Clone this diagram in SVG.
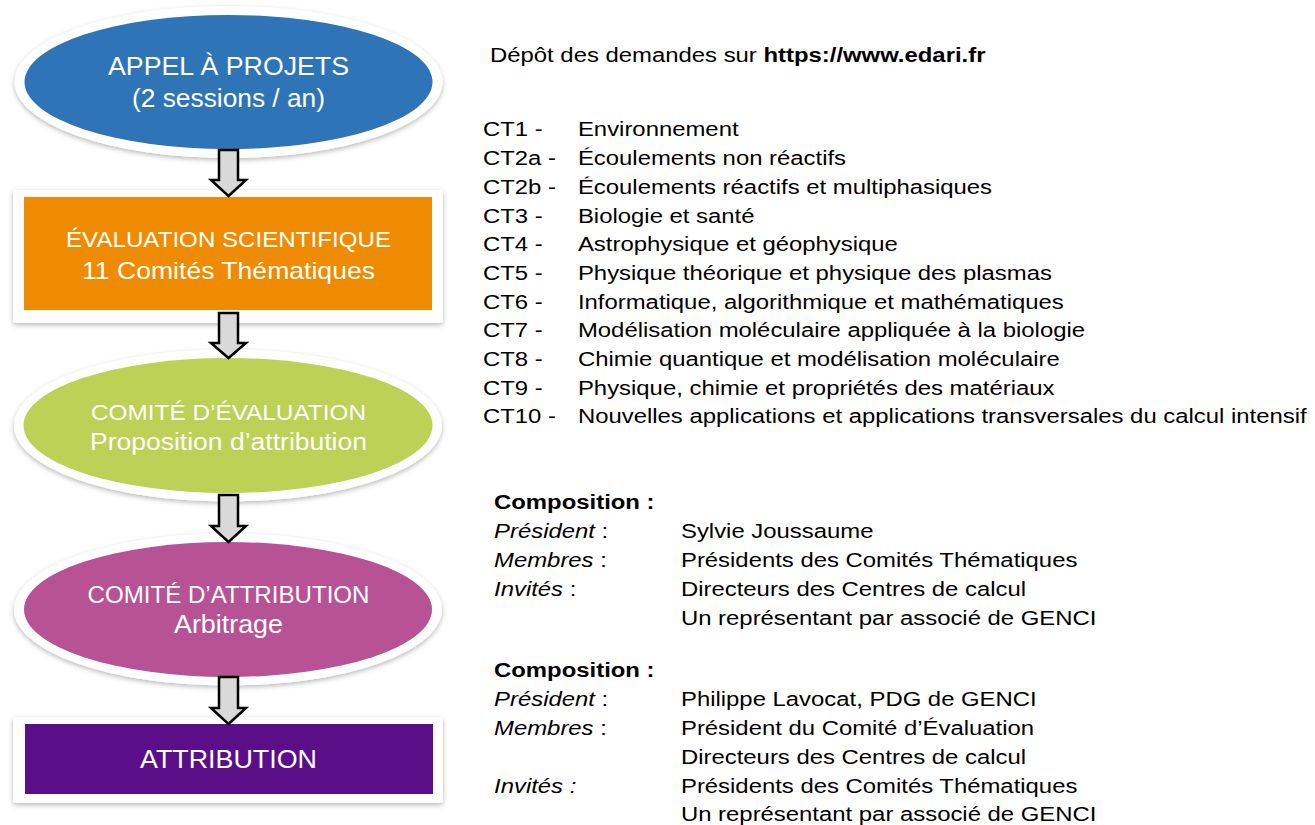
<svg xmlns="http://www.w3.org/2000/svg" width="1315" height="825" viewBox="0 0 1315 825">
<defs>
<filter id="sh" x="-10%" y="-15%" width="120%" height="135%">
<feDropShadow dx="0" dy="2" stdDeviation="2.5" flood-color="#000" flood-opacity="0.28"/>
</filter>
</defs>
<style>
.frame{fill:#fff;filter:url(#sh)}
.lt{font-family:"Liberation Sans",Arial,sans-serif;fill:#fff;text-anchor:middle}
.rt{font-family:"Liberation Sans",Arial,sans-serif;font-size:19.5px;fill:#000}
.b{font-weight:bold}
.i{font-style:italic}
.arrow{fill:#d9d9d9;stroke:#000;stroke-width:2.5;stroke-linejoin:miter}
</style>
<rect width="1315" height="825" fill="#fff"/>

<g id="n1">
<ellipse class="frame" cx="228.5" cy="82" rx="214" ry="76"/>
<ellipse cx="228.5" cy="82" rx="204" ry="67" fill="#2E74B6"/>
<text class="lt" x="228.5" y="75" font-size="25" textLength="241" lengthAdjust="spacingAndGlyphs">APPEL À PROJETS</text>
<text class="lt" x="228.5" y="107" font-size="25" textLength="193" lengthAdjust="spacingAndGlyphs">(2 sessions / an)</text>
</g>

<g id="n2">
<rect class="frame" x="13" y="190" width="430" height="133" rx="3"/>
<rect x="24" y="197" width="408" height="113" fill="#EF8B00"/>
<text class="lt" x="228.5" y="247" font-size="22.5" textLength="325" lengthAdjust="spacingAndGlyphs">ÉVALUATION SCIENTIFIQUE</text>
<text class="lt" x="228.5" y="279" font-size="24.5" textLength="293" lengthAdjust="spacingAndGlyphs">11 Comités Thématiques</text>
</g>

<g id="n3">
<ellipse class="frame" cx="228" cy="425.5" rx="214" ry="76"/>
<ellipse cx="228" cy="425.5" rx="204.5" ry="67.5" fill="#BDD156"/>
<text class="lt" x="228.5" y="420" font-size="21.5" textLength="275" lengthAdjust="spacingAndGlyphs">COMITÉ D’ÉVALUATION</text>
<text class="lt" x="228.5" y="450" font-size="23" textLength="277" lengthAdjust="spacingAndGlyphs">Proposition d’attribution</text>
</g>

<g id="n4">
<ellipse class="frame" cx="228" cy="609.5" rx="214" ry="76"/>
<ellipse cx="228" cy="609.5" rx="204" ry="67.5" fill="#B75295"/>
<text class="lt" x="228.5" y="603" font-size="23" textLength="282" lengthAdjust="spacingAndGlyphs">COMITÉ D’ATTRIBUTION</text>
<text class="lt" x="228.5" y="633" font-size="25" textLength="109" lengthAdjust="spacingAndGlyphs">Arbitrage</text>
</g>

<g id="n5">
<rect class="frame" x="13" y="717" width="430" height="86" rx="3"/>
<rect x="25" y="724" width="408" height="70" fill="#5A0F88"/>
<text class="lt" x="228.5" y="768" font-size="25" textLength="177" lengthAdjust="spacingAndGlyphs">ATTRIBUTION</text>
</g>

<g id="connectors">
<path class="arrow" d="M219,150 H238 V180 H246 L228.5,196 L211,180 H219 Z"/>
<path class="arrow" d="M219,313 H238 V343 H246 L228.5,358 L211,343 H219 Z"/>
<path class="arrow" d="M219,495 H238 V526 H246 L228.5,542 L211,526 H219 Z"/>
<path class="arrow" d="M219,677 H238 V708 H246 L228.5,724 L211,708 H219 Z"/>
</g>

<g id="info" transform="scale(1.225 1)">
<text class="rt" x="400" y="62">Dépôt des demandes sur <tspan class="b">https://www.edari.fr</tspan></text>

<g id="ct-list">
<text class="rt" x="394.3" y="136.5">CT1 -</text><text class="rt" x="471.8" y="136.5">Environnement</text>
<text class="rt" x="394.3" y="165.2">CT2a -</text><text class="rt" x="471.8" y="165.2">Écoulements non réactifs</text>
<text class="rt" x="394.3" y="193.9">CT2b -</text><text class="rt" x="471.8" y="193.9">Écoulements réactifs et multiphasiques</text>
<text class="rt" x="394.3" y="222.6">CT3 -</text><text class="rt" x="471.8" y="222.6">Biologie et santé</text>
<text class="rt" x="394.3" y="251.3">CT4 -</text><text class="rt" x="471.8" y="251.3">Astrophysique et géophysique</text>
<text class="rt" x="394.3" y="280">CT5 -</text><text class="rt" x="471.8" y="280">Physique théorique et physique des plasmas</text>
<text class="rt" x="394.3" y="308.7">CT6 -</text><text class="rt" x="471.8" y="308.7">Informatique, algorithmique et mathématiques</text>
<text class="rt" x="394.3" y="337.4">CT7 -</text><text class="rt" x="471.8" y="337.4">Modélisation moléculaire appliquée à la biologie</text>
<text class="rt" x="394.3" y="366.1">CT8 -</text><text class="rt" x="471.8" y="366.1">Chimie quantique et modélisation moléculaire</text>
<text class="rt" x="394.3" y="394.8">CT9 -</text><text class="rt" x="471.8" y="394.8">Physique, chimie et propriétés des matériaux</text>
<text class="rt" x="394.3" y="423.5">CT10 -</text><text class="rt" x="471.8" y="423.5">Nouvelles applications et applications transversales du calcul intensif</text>
</g>

<g id="comp-evaluation">
<text class="rt b" x="403.3" y="509">Composition :</text>
<text class="rt" x="403.3" y="538"><tspan class="i">Président</tspan> :</text>
<text class="rt" x="555.9" y="538">Sylvie Joussaume</text>
<text class="rt" x="403.3" y="567"><tspan class="i">Membres</tspan> :</text>
<text class="rt" x="555.9" y="567">Présidents des Comités Thématiques</text>
<text class="rt" x="403.3" y="596"><tspan class="i">Invités</tspan> :</text>
<text class="rt" x="555.9" y="596">Directeurs des Centres de calcul</text>
<text class="rt" x="555.9" y="625">Un représentant par associé de GENCI</text>
</g>

<g id="comp-attribution">
<text class="rt b" x="403.3" y="677">Composition :</text>
<text class="rt" x="403.3" y="706"><tspan class="i">Président</tspan> :</text>
<text class="rt" x="555.9" y="706">Philippe Lavocat, PDG de GENCI</text>
<text class="rt" x="403.3" y="735"><tspan class="i">Membres</tspan> :</text>
<text class="rt" x="555.9" y="735">Président du Comité d’Évaluation</text>
<text class="rt" x="555.9" y="764">Directeurs des Centres de calcul</text>
<text class="rt i" x="403.3" y="793">Invités :</text>
<text class="rt" x="555.9" y="793">Présidents des Comités Thématiques</text>
<text class="rt" x="555.9" y="821">Un représentant par associé de GENCI</text>
</g>
</g>
</svg>
